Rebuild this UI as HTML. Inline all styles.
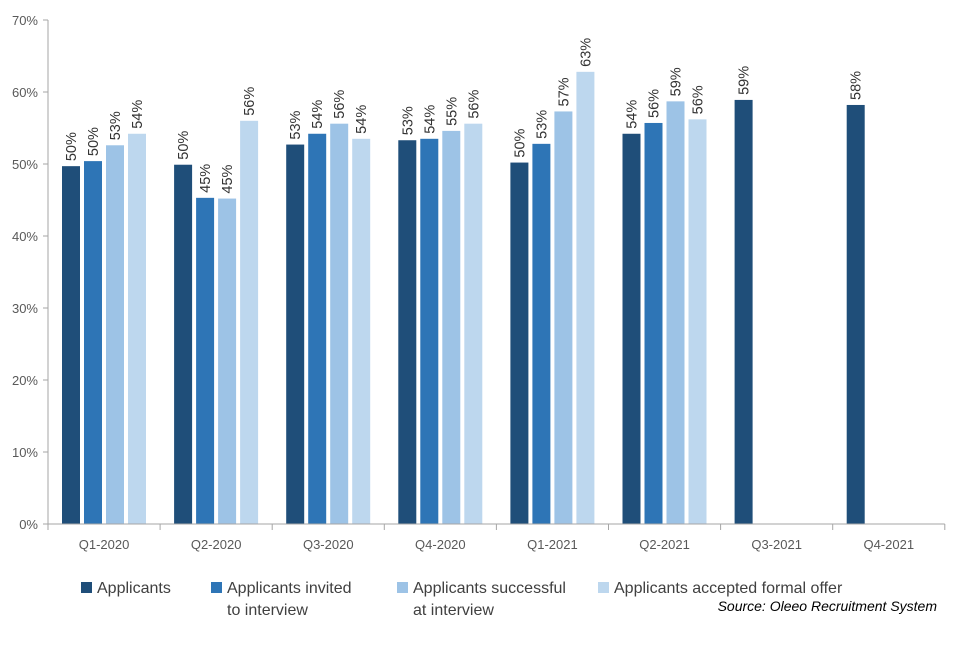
<!DOCTYPE html>
<html><head><meta charset="utf-8"><style>
body{margin:0;background:#fff;}
svg text{font-family:"Liberation Sans",sans-serif;}
</style></head><body>
<svg id="chart" width="960" height="640" xmlns="http://www.w3.org/2000/svg">
<g id="grid"></g><g id="bars"></g><g id="axes"></g>
<g id="legend">
 <rect x="81" y="582" width="11" height="11" fill="#1f4e79"/>
 <text x="97" y="593" font-size="16" fill="#404040">Applicants</text>
 <rect x="211" y="582" width="11" height="11" fill="#2e75b6"/>
 <text x="227" y="593" font-size="16" fill="#404040">Applicants invited</text>
 <text x="227" y="615" font-size="16" fill="#404040">to interview</text>
 <rect x="397" y="582" width="11" height="11" fill="#9dc3e6"/>
 <text x="413" y="593" font-size="16" fill="#404040">Applicants successful</text>
 <text x="413" y="615" font-size="16" fill="#404040">at interview</text>
 <rect x="598" y="582" width="11" height="11" fill="#bdd7ee"/>
 <text x="614" y="593" font-size="16" fill="#404040">Applicants accepted formal offer</text>
</g>
<text x="937" y="611" font-size="14" font-style="italic" fill="#000" text-anchor="end">Source: Oleeo Recruitment System</text>
</svg>
<script>
const categories=["Q1-2020","Q2-2020","Q3-2020","Q4-2020","Q1-2021","Q2-2021","Q3-2021","Q4-2021"];
const applicants=[49.7,49.9,52.7,53.3,50.2,54.2,58.9,58.2];
const invited=[50.4,45.3,54.2,53.5,52.8,55.7,null,null];
const successful=[52.6,45.2,55.6,54.6,57.3,58.7,null,null];
const accepted=[54.2,56.0,53.5,55.6,62.8,56.2,null,null];
const yTicks=[0,10,20,30,40,50,60,70];
const seriesList=[applicants,invited,successful,accepted];
const seriesNames=["applicants","invited","successful","accepted"];
const colors=["#1f4e79","#2e75b6","#9dc3e6","#bdd7ee"];
const NS="http://www.w3.org/2000/svg";
const x0=48,catW=112.1,y0=524,pxPer=7.2;
const y=v=>y0-v*pxPer;
function mk(tag,attrs,parent){const e=document.createElementNS(NS,tag);for(const k in attrs)e.setAttribute(k,attrs[k]);document.getElementById(parent).appendChild(e);return e;}
yTicks.forEach(t=>{
 const tk=mk('line',{x1:x0-5,x2:x0,y1:y(t),y2:y(t),stroke:'#a6a6a6'},'axes');
 
 
 const l=mk('text',{x:x0-10,y:y(t)+5,'font-size':13,fill:'#595959','text-anchor':'end'},'axes');
 l.textContent=t+'%';
 
 
});
categories.forEach((c,i)=>{
 const cx=x0+i*catW;
 seriesList.forEach((s,j)=>{
  const v=s[i]; if(v==null) return;
  const bx=cx+14+j*22;
  const r=mk('rect',{x:bx,y:y(v),width:18,height:y0-y(v),fill:colors[j]},'bars');
  
  
  const tx=bx+9+5, ty=y(v)-5;
  const t=mk('text',{x:tx,y:ty,'font-size':14.5,fill:'#333',transform:`rotate(-90 ${tx} ${ty})`},'bars');
  t.textContent=Math.round(v)+'%';
  
  
 });
 const tk=mk('line',{x1:cx,x2:cx,y1:y0,y2:y0+6,stroke:'#a6a6a6'},'axes');
 
 
 const l=mk('text',{x:cx+catW/2,y:y0+25,'font-size':13,fill:'#595959','text-anchor':'middle'},'axes');
 l.textContent=c;
 
 
});
const lt=mk('line',{x1:x0+categories.length*catW,x2:x0+categories.length*catW,y1:y0,y2:y0+6,stroke:'#a6a6a6'},'axes');


const ya=mk('line',{x1:x0,x2:x0,y1:y(70),y2:y0,stroke:'#a6a6a6'},'axes');


const xa=mk('line',{x1:x0,x2:x0+categories.length*catW,y1:y0,y2:y0,stroke:'#a6a6a6'},'axes');


</script>
</body></html>
